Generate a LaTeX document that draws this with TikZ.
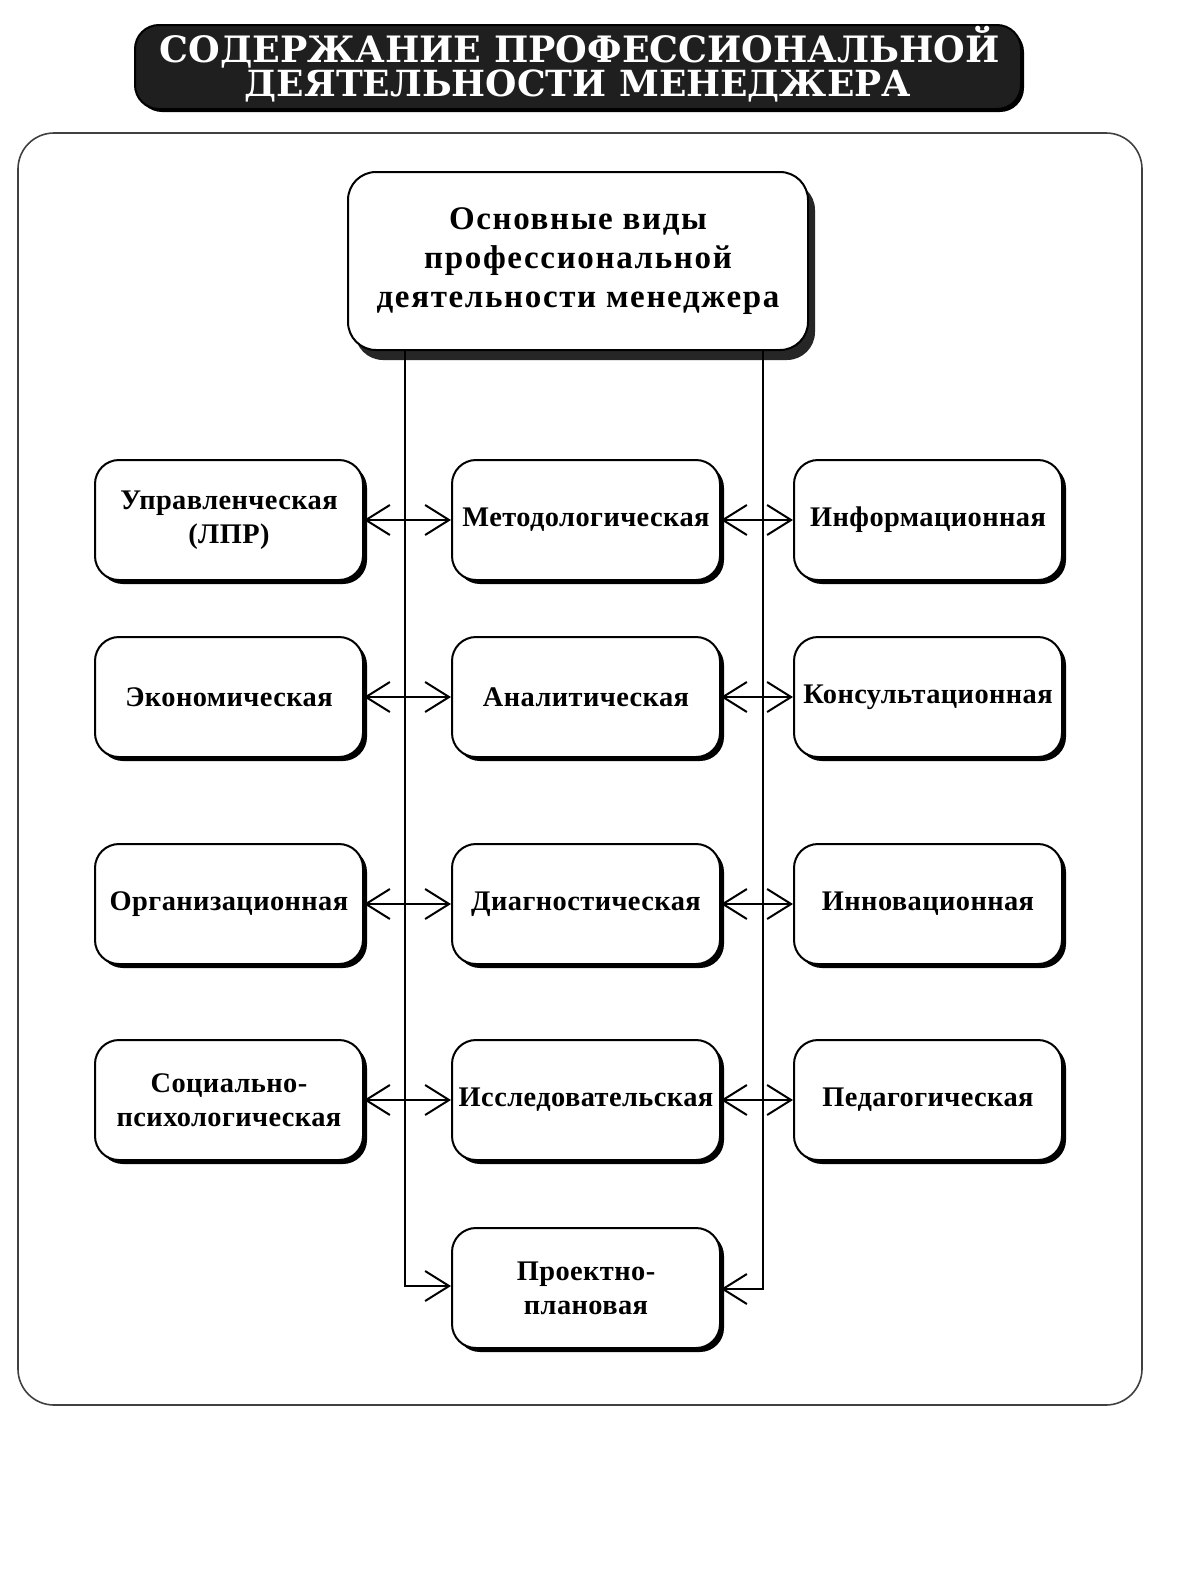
\documentclass[tikz,border=0pt]{standalone}
\usepackage{fontspec}
\setmainfont{Liberation Serif}
\newfontfamily\ttlfont{DejaVu Serif}
\usetikzlibrary{arrows.meta,shadows}
\newcommand\lbfont{\bfseries\fontsize{14.2}{17}\selectfont\addfontfeatures{LetterSpace=1.5}}
\newcommand\topfont{\bfseries\fontsize{16.5}{19.5}\selectfont\addfontfeatures{LetterSpace=5}}
\begin{document}
\begin{tikzpicture}[x=0.5pt,y=-0.5pt,
  box/.style={draw, line width=1pt, rounded corners=12pt, fill=white,
    minimum width=134pt, minimum height=60pt, align=center, inner sep=1pt,
    font=\lbfont,
    drop shadow={shadow xshift=2pt, shadow yshift=-2pt, fill=black, opacity=1}},
  topbox/.style={draw, line width=1pt, rounded corners=14pt, fill=white,
    minimum width=230pt, minimum height=89pt, align=center, inner sep=2pt,
    font=\topfont,
    drop shadow={shadow xshift=3.5pt, shadow yshift=-5pt, fill=black!85, opacity=1}},
  barb/.tip={Straight Barb[length=12pt,width=15pt,line width=1pt]},
  link/.style={line width=0.9pt, barb-barb},
  feed/.style={line width=0.9pt, -barb},
  ttl/.style={text=white, inner sep=0pt, font=\ttlfont\bfseries\fontsize{20}{20}\selectfont}
]
\useasboundingbox (0,0) rectangle (1180,1569);
\fill[white] (0,0) rectangle (1180,1569);

% title banner
\node[draw=black, line width=1pt, rounded corners=12pt, fill=black!88,
      minimum width=443pt, minimum height=42pt,
      drop shadow={shadow xshift=1.5pt, shadow yshift=-1.5pt, fill=black, opacity=1}]
      (banner) at (578,67) {};
\node[ttl] (t1) at (580,47) {\resizebox{420pt}{!}{СОДЕРЖАНИЕ ПРОФЕССИОНАЛЬНОЙ}};
\node[ttl] (t2) at (578,86) {\resizebox{333pt}{!}{ДЕЯТЕЛЬНОСТИ МЕНЕДЖЕРА}};

% outer frame
\draw[line width=0.8pt, black!75, rounded corners=18pt] (18,133) rectangle (1142,1405);

% top box
\node[topbox] (top) at (578,261) {Основные виды\\профессиональной\\деятельности менеджера};

% boxes
\node[box] (l1) at (229,520) {Управленческая\\(ЛПР)};
\node[box] (m1) at (586,520) {Методологическая};
\node[box] (r1) at (928,520) {Информационная};

\node[box] (l2) at (229,697) {Экономическая};
\node[box] (m2) at (586,697) {Аналитическая};
\node[box] (r2) at (928,697) {Консультационная};

\node[box] (l3) at (229,904) {Организационная};
\node[box] (m3) at (586,904) {Диагностическая};
\node[box] (r3) at (928,904) {Инновационная};

\node[box] (l4) at (229,1100) {Социально-\\психологическая};
\node[box] (m4) at (586,1100) {Исследовательская};
\node[box] (r4) at (928,1100) {Педагогическая};

\node[box] (p5) at (586,1288) {Проектно-\\плановая};

% vertical feed lines
\coordinate (vl) at (405,1286);
\coordinate (vr) at (763,1289);
\draw[feed] (top.south -| vl) -- (vl) -- (vl -| p5.west);
\draw[feed] (top.south -| vr) -- (vr) -- (vr -| p5.east);

% horizontal links
\foreach \i in {1,2,3,4}{
  \draw[link] (l\i.east) -- (m\i.west);
  \draw[link] (m\i.east) -- (r\i.west);
}
\end{tikzpicture}
\end{document}
